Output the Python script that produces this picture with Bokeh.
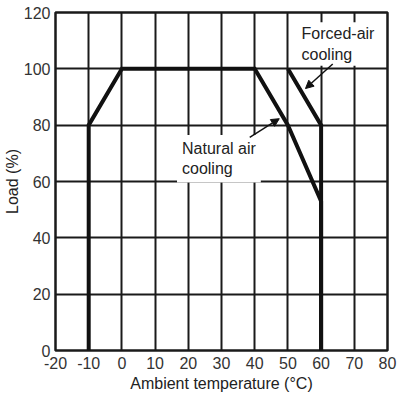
from bokeh.plotting import figure
from bokeh.models import Range1d, FixedTicker, Label, Arrow, NormalHead
from bokeh.embed import file_html
from bokeh.resources import INLINE

# Data
natural_temp = [-10, -10, 0, 40, 50, 60, 60]
natural_load = [0, 80, 100, 100, 80, 53, 0]
forced_temp = [50, 60, 60]
forced_load = [100, 80, 0]

x_ticks = [-20, -10, 0, 10, 20, 30, 40, 50, 60, 70, 80]
y_ticks = [0, 20, 40, 60, 80, 100, 120]
x_tick_labels = {t: str(t) for t in x_ticks}

# annotation positions (data units)
forced_text = (53.2, 116.5)
forced_arrow = (63.5, 101.7, 55.3, 93.0)
natural_text = (16.6, 76.5)
natural_arrow = (38.5, 75.7, 47.4, 82.3)

FONT = "Liberation Sans"
TXT = "#333333"

p = figure(width=398, height=397, output_backend="svg", toolbar_location=None,
           x_range=Range1d(-20, 80), y_range=Range1d(0, 120),
           min_border_left=55, min_border_right=11, min_border_top=12, min_border_bottom=47)

p.background_fill_color = "white"
p.border_fill_color = "white"
p.outline_line_color = "#1a1a1a"
p.outline_line_width = 2.5

p.xaxis.ticker = FixedTicker(ticks=x_ticks)
p.yaxis.ticker = FixedTicker(ticks=y_ticks)
p.xaxis.major_label_overrides = x_tick_labels
for ax in (p.xaxis[0], p.yaxis[0]):
    ax.axis_line_color = None
    ax.major_tick_line_color = None
    ax.minor_tick_line_color = None
    ax.major_tick_out = 0
    ax.major_tick_in = 0
    ax.major_label_text_font = FONT
    ax.major_label_text_font_size = "16px"
    ax.major_label_text_color = TXT
    ax.axis_label_text_font = FONT
    ax.axis_label_text_font_size = "16px"
    ax.axis_label_text_font_style = "normal"
    ax.axis_label_text_color = "#222222"

p.xaxis.major_label_standoff = 6
p.yaxis.major_label_standoff = 5
p.xaxis.axis_label = "Ambient temperature (°C)"
p.xaxis.axis_label_standoff = 3
p.yaxis.axis_label = "Load (%)"
p.yaxis.axis_label_standoff = 0

p.xgrid.ticker = FixedTicker(ticks=x_ticks)
p.ygrid.ticker = FixedTicker(ticks=y_ticks)
p.grid.grid_line_color = "#1a1a1a"
p.grid.grid_line_width = 2
p.grid.grid_line_alpha = 1

p.line(natural_temp, natural_load, line_color="#111111", line_width=4, line_join="miter")
p.line(forced_temp, forced_load, line_color="#111111", line_width=4, line_join="miter")

lab_f = Label(x=forced_text[0], y=forced_text[1], text="Forced-air\ncooling",
              text_font=FONT, text_font_size="16px", text_color="#222222",
              text_align="left", text_baseline="top",
              background_fill_color="white", padding=3)
lab_n = Label(x=natural_text[0], y=natural_text[1], text="Natural air\ncooling",
              text_font=FONT, text_font_size="16px", text_color="#222222",
              text_align="left", text_baseline="top",
              background_fill_color="white", padding=5)
p.add_layout(lab_f)
p.add_layout(lab_n)

for (x0, y0, x1, y1) in (forced_arrow, natural_arrow):
    p.add_layout(Arrow(x_start=x0, y_start=y0, x_end=x1, y_end=y1,
                       line_color="#111111", line_width=1.5,
                       end=NormalHead(size=8, fill_color="#111111", line_color="#111111")))

open("out.html", "w").write(file_html(p, INLINE))
